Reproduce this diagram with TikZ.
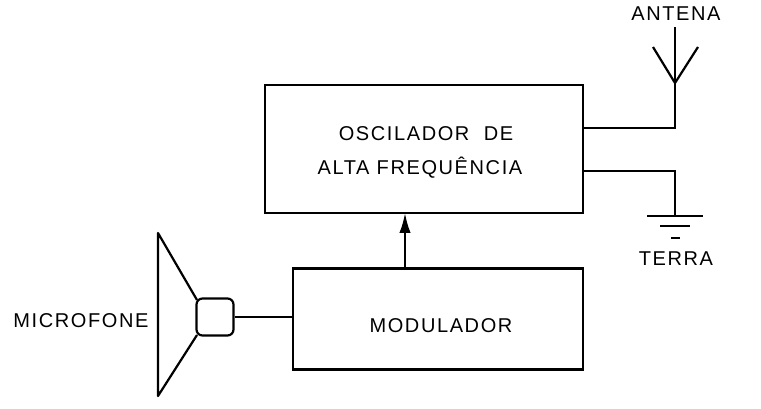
\documentclass[tikz,border=0pt]{standalone}
\usepackage{fontspec}
\setmainfont{Liberation Sans}[LetterSpace=8]
\usetikzlibrary{arrows.meta, positioning}

\begin{document}
\begin{tikzpicture}[x=1pt, y=-1pt, font=\fontsize{20}{24}\selectfont]
        \tikzset{
        block/.style = {draw, line width=2.2pt, rectangle, inner sep=0pt},
        wire/.style  = {line width=2.2pt},
        label/.style = {inner sep=0pt, align=center}
        }
        \useasboundingbox (0,0) rectangle (761,409);

        % Blocks
        \node[block, minimum width=318pt, minimum height=128pt] (osc) at (424,149) {};
        \node[label] at (426,134) {OSCILADOR\ \ DE};
        \node[label] at (420,168) {ALTA FREQUÊNCIA};
        \node[block, minimum width=290pt, minimum height=101pt] (mod) at (438,319) {};
        \node[label] at (441,326) {MODULADOR};

        % Modulator feeds the oscillator
        \draw[wire, -{Latex[length=7mm, width=4mm]}] (405,268) -- (405,213);

        % Antenna
        \coordinate (ant) at (675,83);
        \draw[wire] (osc.east |- 0,128) -| (ant) -- (675,27);
        \draw[wire] (653,47) -- (ant) -- (698,47);
        \node[label] (antlbl) at (676,14) {ANTENA};

        % Ground
        \coordinate (gnd) at (675,216);
        \draw[wire] (osc.east |- 0,171) -| (gnd);
        \draw[wire] (647,216) -- (703,216);
        \draw[wire] (660,226) -- (690,226);
        \draw[wire] (671,238) -- (680,238);
        \node[label] (gndlbl) at (676,259) {TERRA};

        % Microphone
        \draw[wire, line join=round] (197,300) -- (158,233) -- (158,396) -- (197,335);
        \node[draw, line width=2.2pt, rounded corners=6pt, minimum width=37pt, minimum height=37pt] (mic) at (215,317) {};
        \draw[wire] (mic.east) -- (mic.east -| mod.west);
        \node[label] (miclbl) at (81,321) {MICROFONE};
\end{tikzpicture}
\end{document}
